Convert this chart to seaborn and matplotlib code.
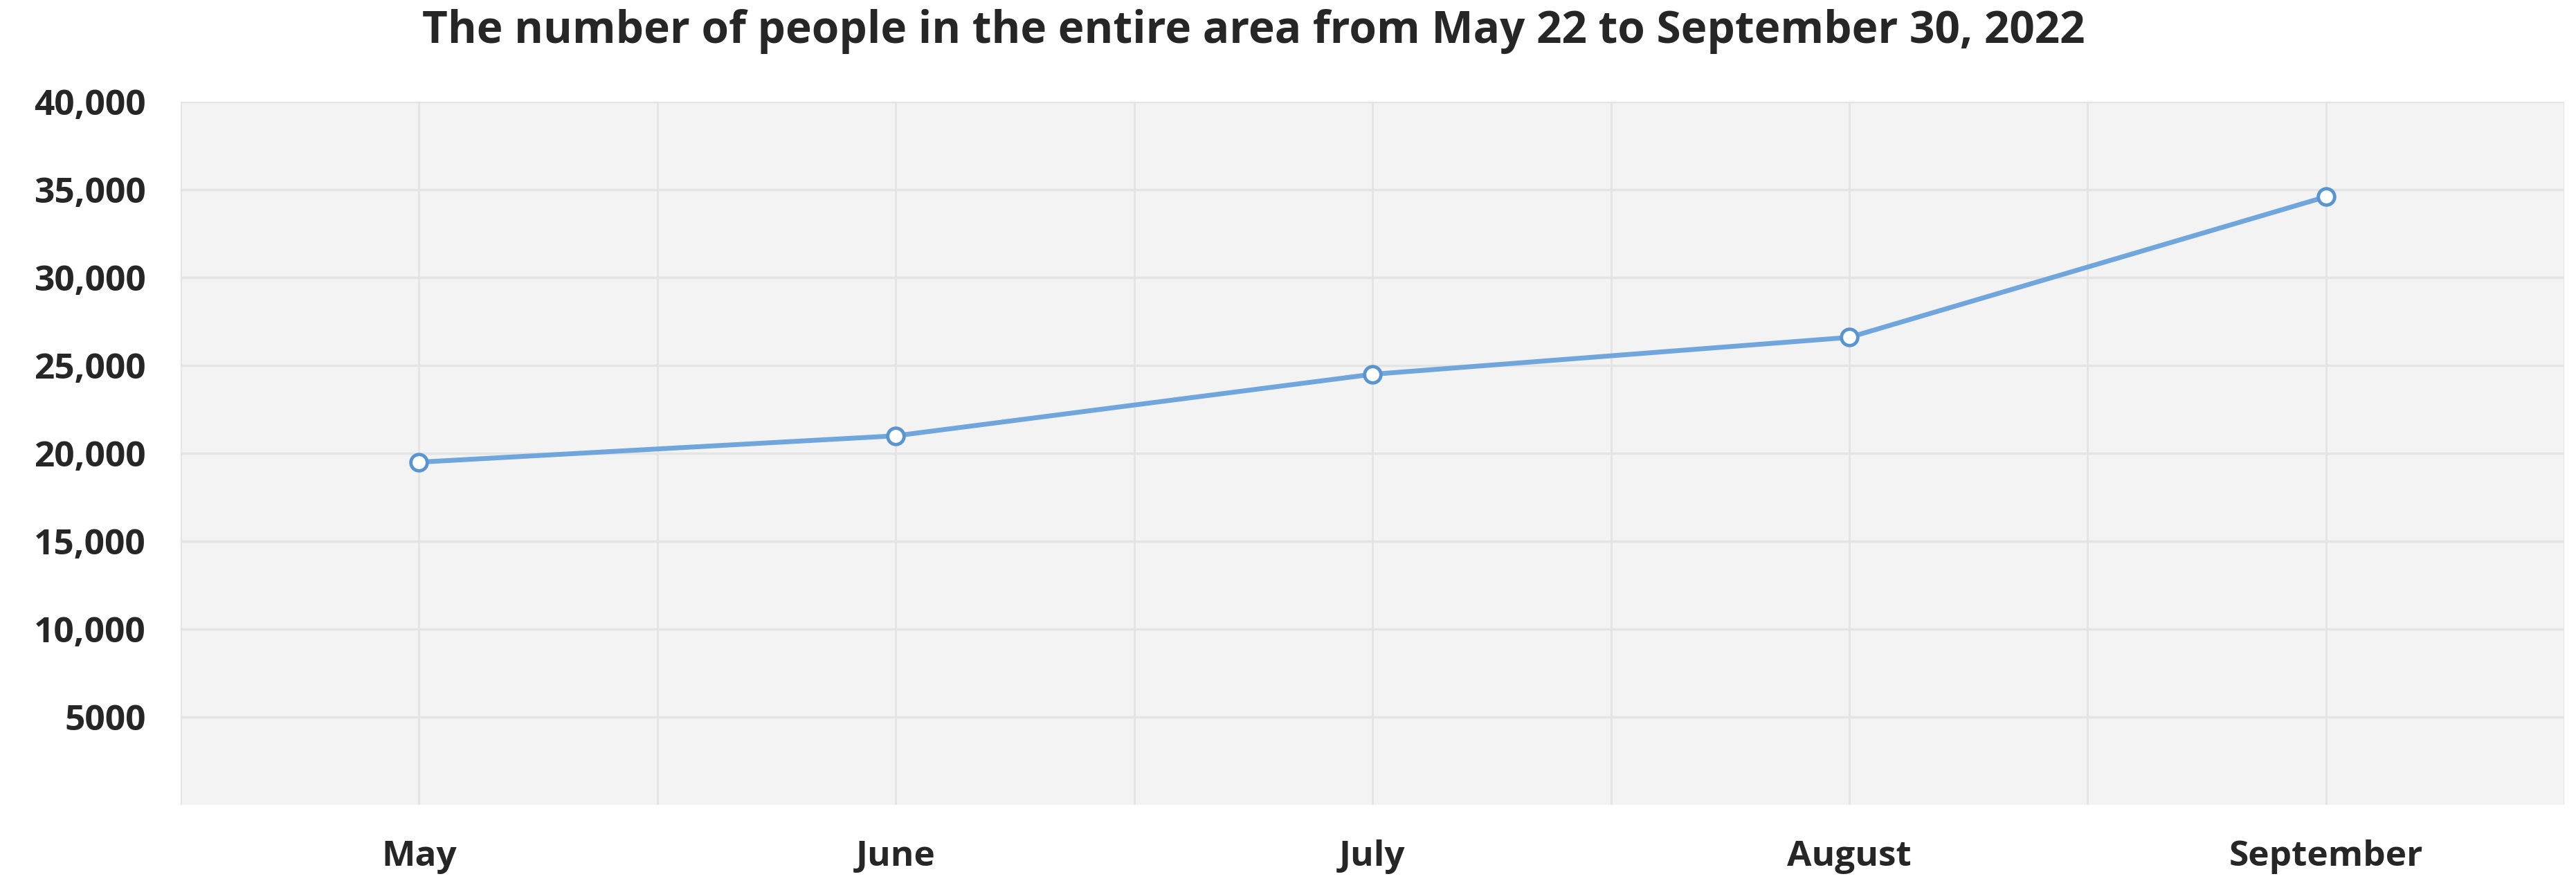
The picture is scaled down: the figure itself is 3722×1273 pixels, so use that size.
import matplotlib
matplotlib.use("Agg")
import matplotlib.pyplot as plt
import seaborn as sns
import pandas as pd

months = ["May", "June", "July", "August", "September"]
people = [19500, 21000, 24500, 26600, 34600]
y_ticks = [5000, 10000, 15000, 20000, 25000, 30000, 35000, 40000]
y_labels = ["5000", "10,000", "15,000", "20,000", "25,000", "30,000", "35,000", "40,000"]
title = "The number of people in the entire area from May 22 to September 30, 2022"

sns.set_theme(style="white")
plt.rcParams["font.family"] = ["Open Sans", "DejaVu Sans"]

df = pd.DataFrame({"month": months, "people": people})

fig = plt.figure(figsize=(37.22, 12.73), dpi=100)
ax = fig.add_axes([0.0701, 0.0864, 0.9254, 0.7980])
ax.set_facecolor("#f3f3f3")

sns.lineplot(data=df, x="month", y="people", ax=ax, sort=False,
             color="#70a6dc", linewidth=5, marker="o", markersize=17,
             markerfacecolor="white", markeredgecolor="#5b95d0",
             markeredgewidth=3.5, zorder=5)

n = len(months)
ax.set_xlim(-0.5, n - 0.5)
ax.set_ylim(0, 40000)

# vertical gridlines at category centres and boundaries
for i in range(n):
    ax.axvline(i, color="#e4e4e4", lw=2, zorder=1)
for i in range(n + 1):
    ax.axvline(i - 0.5, color="#e4e4e4", lw=2, zorder=1)
for t in y_ticks:
    ax.axhline(t, color="#e4e4e4", lw=2.5, zorder=1)

ax.set_yticks(y_ticks)
ax.set_yticklabels(y_labels)
ax.set_xticks(range(n))
ax.set_xticklabels(months)
ax.tick_params(axis="both", length=0, labelsize=37, colors="#262626")
ax.tick_params(axis="y", pad=36)
ax.tick_params(axis="x", pad=36)
for lbl in ax.get_xticklabels() + ax.get_yticklabels():
    lbl.set_fontweight("bold")

ax.set_xlabel("")
ax.set_ylabel("")
for s in ax.spines.values():
    s.set_visible(False)

fig.suptitle(title, x=0.4866, y=0.99, va="top", fontsize=46,
             fontweight="bold", color="#262626")

fig.savefig("out.png", dpi=100, facecolor="white")
